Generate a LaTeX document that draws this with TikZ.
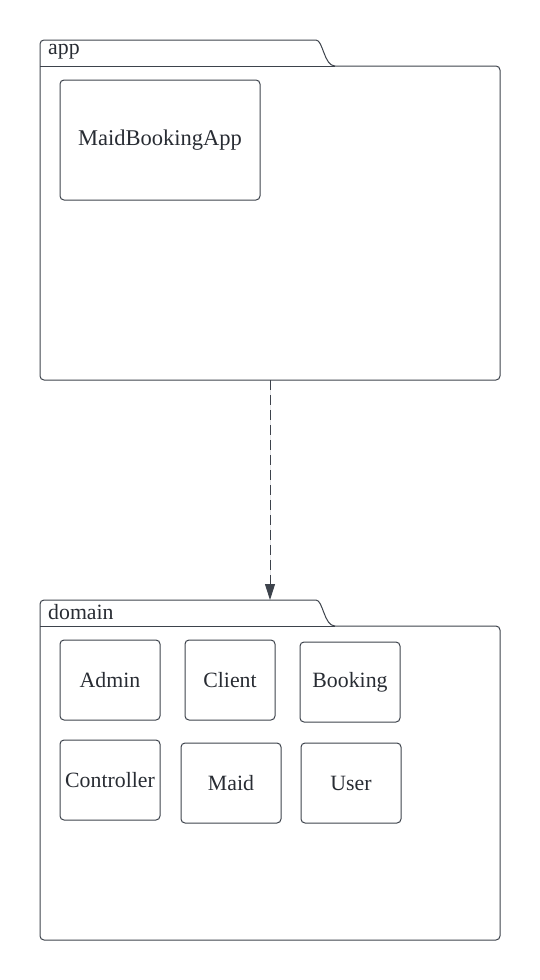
\documentclass[tikz,border=0pt]{standalone}
\usepackage{fontspec}
\setmainfont{Liberation Serif}
\usetikzlibrary{arrows.meta}
\definecolor{lineclr}{HTML}{3D434C}
\definecolor{textclr}{HTML}{282C33}
\tikzset{
  classbox/.style={draw=lineclr, line width=1pt, rounded corners=4pt, inner sep=0pt,
    minimum width=100pt, minimum height=80pt, text=textclr,
    font=\fontsize{21.8}{26}\selectfont},
  pkgline/.style={draw=lineclr, line width=1pt, rounded corners=4pt},
  pkglabel/.style={anchor=west, inner sep=0pt, text=textclr, font=\fontsize{21.8}{26}\selectfont}
}
\begin{document}
\begin{tikzpicture}[x=1pt, y=-1pt, line join=round, >={Triangle[width=10pt,length=16pt]}]
  \useasboundingbox (0,0) rectangle (540,980);
  % package app
  \draw[pkgline] (40,66) -- (40,40) -- (312,40) [sharp corners] .. controls (323,40) and (324,66) .. (335,66)
    [rounded corners=4pt] -- (500,66) -- (500,380) -- (40,380) -- cycle;
  \draw[draw=lineclr, line width=1pt] (40,66) -- (335,66);
  \node[pkglabel] (applbl) at (48,52) {app};
  \node[classbox, minimum width=200pt, minimum height=120pt, font=\fontsize{22.5}{27}\selectfont] (mba) at (160,140) {MaidBookingApp};
  \coordinate (appbot) at (270,380);
  % package domain
  \draw[pkgline] (40,626) -- (40,600) -- (312,600) [sharp corners] .. controls (323,600) and (324,626) .. (335,626)
    [rounded corners=4pt] -- (500,626) -- (500,940) -- (40,940) -- cycle;
  \draw[draw=lineclr, line width=1pt] (40,626) -- (335,626);
  \node[pkglabel] (domlbl) at (48,612) {domain};
  \coordinate (domtop) at (270,600);
  \node[classbox] (admin) at (110,680) {Admin};
  \node[classbox, minimum width=90pt] (client) at (230,680) {Client};
  \node[classbox] (booking) at (350,682) {Booking};
  \node[classbox] (ctrl) at (110,780) {Controller};
  \node[classbox] (maid) at (231,783) {Maid};
  \node[classbox] (user) at (351,783) {User};
  % dependency
  \draw[->, draw=lineclr, fill=lineclr, line width=1pt, dash pattern=on 10pt off 5pt] (appbot) -- (domtop);
\end{tikzpicture}
\end{document}
